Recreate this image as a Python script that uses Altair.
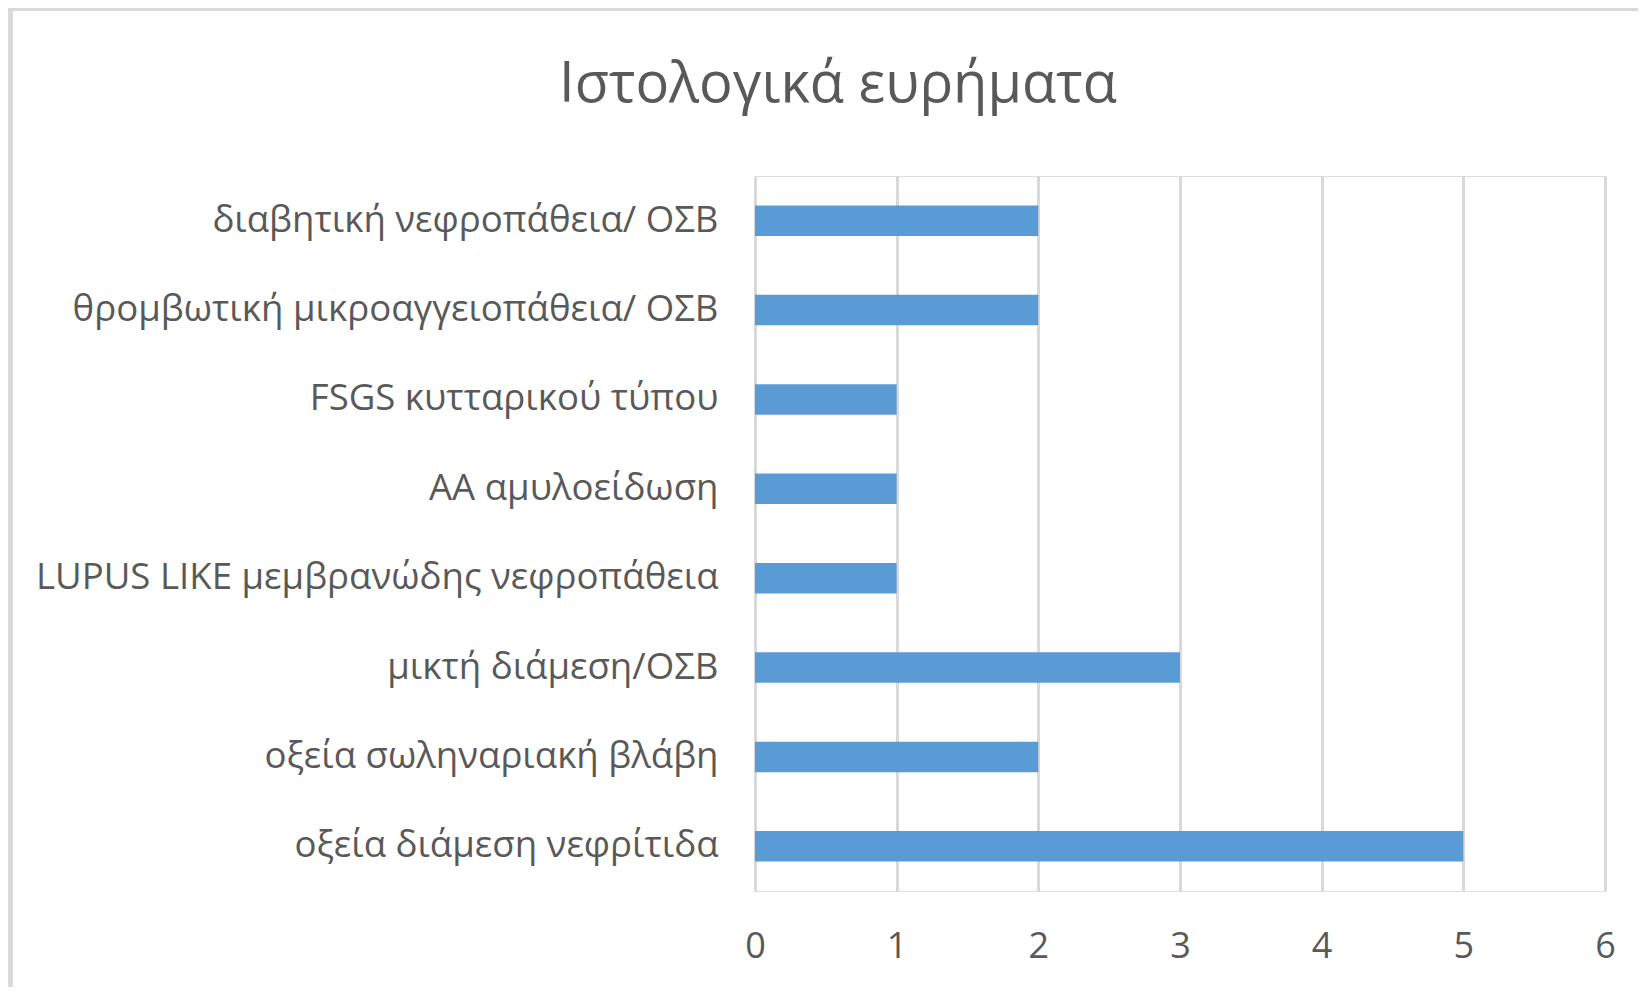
import altair as alt
import pandas as pd

categories = [
    "διαβητική νεφροπάθεια/ ΟΣΒ",
    "θρομβωτική μικροαγγειοπάθεια/ ΟΣΒ",
    "FSGS κυτταρικού τύπου",
    "AA αμυλοείδωση",
    "LUPUS LIKE μεμβρανώδης νεφροπάθεια",
    "μικτή  διάμεση/ΟΣΒ",
    "οξεία σωληναριακή βλάβη",
    "οξεία διάμεση νεφρίτιδα",
]
values = [2, 2, 1, 1, 1, 3, 2, 5]
x_ticks = [0, 1, 2, 3, 4, 5, 6]
title_text = ["Ιστολογικά ευρήματα"]

df = pd.DataFrame({"category": categories, "value": values})
df_title = pd.DataFrame({"t": title_text})

FONT = "Open Sans"
TEXT = "#595959"
GRID = "#D9D9D9"

PLOT_W = 850
PLOT_H = 715
PAD_L = 747
PAD_T = 168

bars = alt.Chart(df).mark_bar(color="#5B9BD5").encode(
    x=alt.X(
        "value:Q",
        scale=alt.Scale(domain=[0, 6], nice=False, zero=True),
        axis=alt.Axis(
            values=x_ticks,
            title=None,
            grid=True,
            gridColor=GRID,
            gridWidth=3,
            domain=False,
            ticks=False,
            labelFont=FONT,
            labelFontSize=36,
            labelColor=TEXT,
            labelPadding=38,
            labelFlush=False,
        ),
    ),
    y=alt.Y(
        "category:N",
        sort=categories,
        scale=alt.Scale(paddingInner=0.66, paddingOuter=0.33),
        axis=alt.Axis(
            title=None,
            domain=False,
            ticks=False,
            grid=False,
            labelFont=FONT,
            labelFontSize=36.6,
            labelColor=TEXT,
            labelPadding=37,
            labelLimit=0,
        ),
    ),
)

title = alt.Chart(df_title).mark_text(
    font=FONT,
    fontSize=56,
    color=TEXT,
    align="center",
    baseline="alphabetic",
).encode(
    text="t:N",
    x=alt.value(838 - 755),
    y=alt.value(102 - 176),
)

border_left = alt.Chart(df).mark_rule(color=GRID, strokeWidth=5).encode(
    x=alt.value(2.5 - PAD_L),
    y=alt.value(-PAD_T),
    y2=alt.value(1000),
)
border_top = alt.Chart(df).mark_rule(color=GRID, strokeWidth=4).encode(
    x=alt.value(-PAD_L),
    x2=alt.value(1000),
    y=alt.value(0.5 - PAD_T),
)

chart = (
    alt.layer(bars, title, border_left, border_top)
    .properties(
        width=PLOT_W,
        height=PLOT_H,
        autosize=alt.AutoSizeParams(type="none"),
        padding={"left": PAD_L, "top": PAD_T, "right": 33, "bottom": 96},
    )
    .configure_view(stroke=None)
    .configure(background="white")
)

chart.save("out.html", embed_options={"renderer": "svg", "actions": False})
